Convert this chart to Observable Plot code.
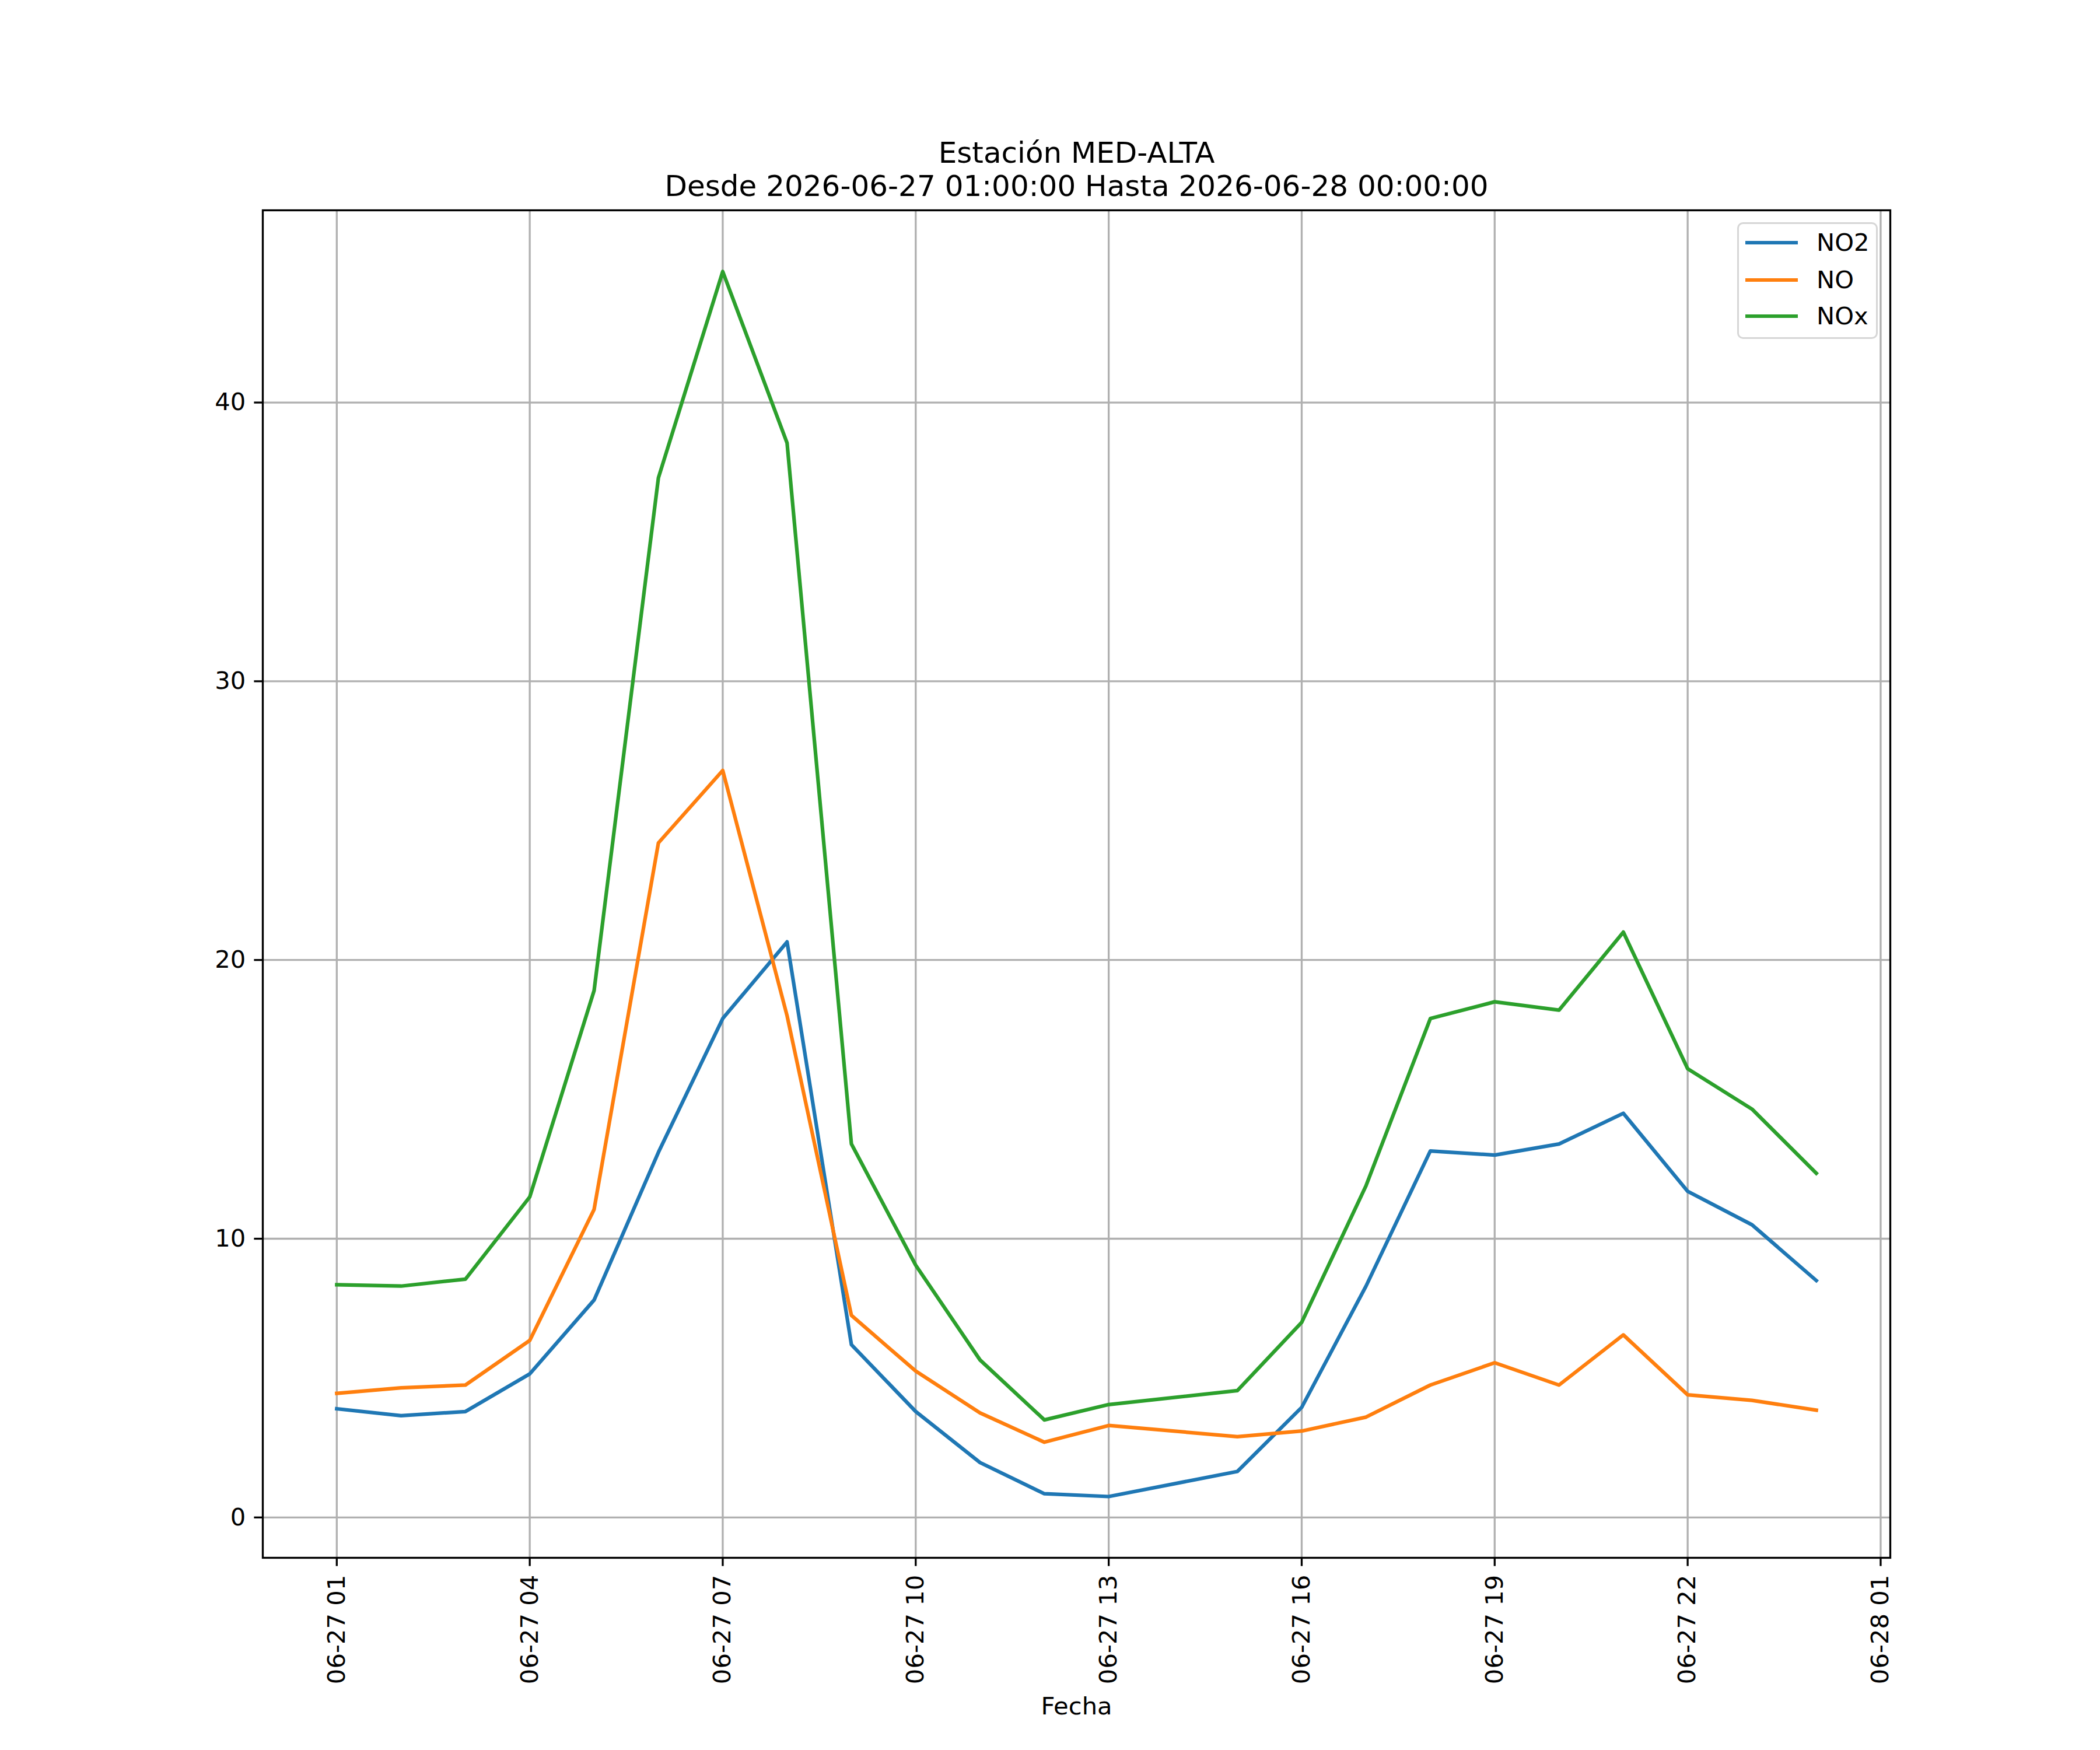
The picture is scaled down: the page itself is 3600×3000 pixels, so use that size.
<!DOCTYPE html>
<html>
<head>
<meta charset="utf-8">
<script src="https://cdn.jsdelivr.net/npm/d3@7"></script>
<script src="https://cdn.jsdelivr.net/npm/@observablehq/plot@0.6"></script>
<style>
  html, body { margin: 0; padding: 0; background: #fff; }
  #wrap { position: relative; width: 3600px; height: 3000px; font-family: "DejaVu Sans", sans-serif; color: #000; }
  #legend { position: absolute; left: 2978px; top: 381px; width: 235px; height: 194px;
    border: 3.3px solid #d6d6d6; border-radius: 10px; background: rgba(255,255,255,0.8); box-sizing: content-box; }
  .row { position: absolute; left: 0; height: 50px; }
  .sw { position: absolute; left: 11px; width: 90px; height: 6.25px; }
  .lb { position: absolute; left: 133px; font-size: 41.7px; line-height: 50px; top: -25px; white-space: nowrap; }
</style>
</head>
<body>
<div id="wrap"></div>
<script>
// ---- data ----
const hours = [1, 2, 3, 4, 5, 6, 7, 8, 9, 10, 11, 12, 13, 15, 16, 17, 18, 19, 20, 21, 22, 23, 24];
const no2 = [3.9, 3.65, 3.8, 5.15, 7.8, 13.1, 17.9, 20.65, 6.2, 3.8, 1.97, 0.85, 0.75, 1.65, 3.95, 8.3, 13.15, 13.0, 13.4, 14.5, 11.7, 10.5, 8.5];
const no  = [4.45, 4.65, 4.75, 6.35, 11.05, 24.2, 26.8, 18.0, 7.25, 5.25, 3.75, 2.7, 3.3, 2.9, 3.1, 3.6, 4.75, 5.55, 4.75, 6.55, 4.4, 4.2, 3.85];
const nox = [8.35, 8.3, 8.55, 11.5, 18.9, 37.3, 44.7, 38.55, 13.4, 9.05, 5.65, 3.5, 4.05, 4.55, 7.0, 11.9, 17.9, 18.5, 18.2, 21.0, 16.1, 14.65, 12.35];
const seriesNames = ["NO2", "NO", "NOx"];
const seriesColors = ["#1f77b4", "#ff7f0e", "#2ca02c"];
const yTicks = [0, 10, 20, 30, 40];
const xTickHours = [1, 4, 7, 10, 13, 16, 19, 22, 25];
const titleLine1 = "Estación MED-ALTA";
const titleLine2 = "Desde 2026-06-27 01:00:00 Hasta 2026-06-28 00:00:00";
const xLabel = "Fecha";

// ---- build table ----
const toDate = h => new Date(Date.UTC(2026, 5, 27, h));
const seriesValues = [no2, no, nox];
const rows = [];
seriesNames.forEach((name, i) => {
  hours.forEach((h, j) => rows.push({series: name, date: toDate(h), value: seriesValues[i][j]}));
});

const allVals = rows.map(d => d.value);
const [ymin, ymax] = d3.extent(allVals);
const ypad = (ymax - ymin) * 0.05;
const [xmin, xmax] = d3.extent(rows, d => d.date);
const xpad = (xmax - xmin) * 0.05;

const fs = 41.7;
const lw = 3.3;
const fmt = d3.utcFormat("%m-%d %H");
const xTicks = xTickHours.map(toDate);

const chart = Plot.plot({
  width: 3600,
  height: 3000,
  marginLeft: 450,
  marginRight: 360,
  marginTop: 360,
  marginBottom: 330,
  style: {fontFamily: "DejaVu Sans, sans-serif", background: "#fff", color: "#000", overflow: "visible"},
  x: {type: "utc", domain: [new Date(+xmin - xpad), new Date(+xmax + xpad)]},
  y: {domain: [ymin - ypad, ymax + ypad]},
  color: {domain: seriesNames, range: seriesColors},
  marks: [
    Plot.gridX({ticks: xTicks, stroke: "#b0b0b0", strokeOpacity: 1, strokeWidth: lw}),
    Plot.gridY({ticks: yTicks, stroke: "#b0b0b0", strokeOpacity: 1, strokeWidth: lw}),
    Plot.line(rows, {x: "date", y: "value", z: "series", stroke: "series", strokeWidth: 6.25, strokeLinejoin: "round", strokeLinecap: "square"}),
    Plot.frame({stroke: "#000", strokeWidth: lw}),
    Plot.axisY({ticks: yTicks, tickSize: 14.6, tickPadding: 14.6, fontSize: fs, label: null, strokeWidth: lw}),
    Plot.axisX({ticks: xTicks, tickFormat: fmt, tickSize: 14.6, tickPadding: 14.6, fontSize: fs, label: null, tickRotate: -90, strokeWidth: lw}),
    Plot.text([titleLine1], {text: d => d, frameAnchor: "top", dy: -98, fontSize: 50, lineAnchor: "middle"}),
    Plot.text([titleLine2], {text: d => d, frameAnchor: "top", dy: -41, fontSize: 50, lineAnchor: "middle"}),
    Plot.text([xLabel], {text: d => d, frameAnchor: "bottom", dy: 255, fontSize: fs, lineAnchor: "middle"})
  ]
});

const wrap = document.getElementById("wrap");
wrap.appendChild(chart);

// legend
const legend = document.createElement("div");
legend.id = "legend";
const rowTops = [416, 480, 542];
seriesNames.forEach((name, i) => {
  const r = document.createElement("div");
  r.className = "row";
  r.style.top = (rowTops[i] - 384) + "px";
  const sw = document.createElement("div");
  sw.className = "sw";
  sw.style.background = seriesColors[i];
  sw.style.top = "-3px";
  const lb = document.createElement("div");
  lb.className = "lb";
  lb.textContent = name;
  r.appendChild(sw); r.appendChild(lb);
  legend.appendChild(r);
});
wrap.appendChild(legend);
</script>
</body>
</html>
